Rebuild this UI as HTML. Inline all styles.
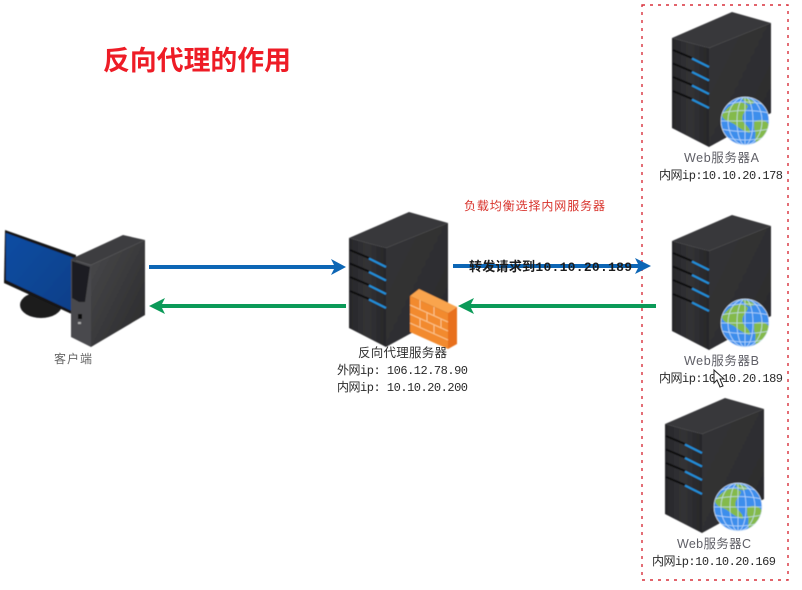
<!DOCTYPE html>
<html><head><meta charset="utf-8"><style>
html,body{margin:0;padding:0;background:#fff;width:802px;height:590px;overflow:hidden}
svg{display:block}
text{font-family:"Liberation Sans","Noto Sans CJK SC",sans-serif}
.m{font-family:"Liberation Mono","Noto Sans CJK SC",monospace;font-size:12px;fill:#2a2a2a}
.g{font-size:12.5px;fill:#5e5e66}
</style></head><body>
<svg width="802" height="590" viewBox="0 0 802 590" xmlns="http://www.w3.org/2000/svg">
<defs>
<linearGradient id="fr" x1="0" y1="0" x2="1" y2="0"><stop offset="0" stop-color="#27272a"/><stop offset=".5" stop-color="#323235"/><stop offset="1" stop-color="#272729"/></linearGradient>
<linearGradient id="rt" x1="0" y1="0" x2="1" y2="1"><stop offset="0" stop-color="#353537"/><stop offset="1" stop-color="#2a2a2c"/></linearGradient>
<linearGradient id="tw" x1="0" y1="0" x2="1" y2="1"><stop offset="0" stop-color="#4a4a4c"/><stop offset="1" stop-color="#29292b"/></linearGradient>
<linearGradient id="sc" x1="0" y1="0" x2="1" y2="1"><stop offset="0" stop-color="#0b4da3"/><stop offset="1" stop-color="#083f88"/></linearGradient>
<filter id="b" x="-5%" y="-5%" width="110%" height="110%"><feGaussianBlur stdDeviation=".5"/></filter>
<filter id="t" x="-5%" y="-20%" width="110%" height="140%"><feGaussianBlur stdDeviation=".3"/></filter>
<clipPath id="gc"><circle cx="0" cy="0" r="24"/></clipPath>
<g id="server">
<polygon points="0,26 60,0 99,11 37,36" fill="#39393b"/>
<polygon points="0,26 37,36 37,135 0,116" fill="url(#fr)"/>
<polygon points="37,36 99,11 99,101 37,135" fill="url(#rt)"/>
<g fill="none" stroke-width="2">
<path d="M1 38L20 46M1 51.500L20 59.500M1 65L20 73M1 79L20 87" stroke="#0b0b0c"/>
<path d="M20 46.500L37 55M20 60L37 68.500M20 73.500L37 82M20 87.500L37 96" stroke="#2090dc"/>
</g>
</g>
<g id="globe">
<circle r="24" fill="#3e8eec"/>
<g clip-path="url(#gc)">
<path d="M-23-6C-14-20 -2-21 3-15C1-9 -4-7 -2 0C0 4 6 7 5 12C0 11 -6 7 -11 3C-16 0-22 0-23-6Z" fill="#84ba4c"/>
<path d="M-3-23C2-23 9-21 9-18C4-15 0-18-3-23Z" fill="#84ba4c"/>
<path d="M9 1C15-3 23-1 25 6C23 15 16 20 11 22C9 15 12 12 9 8Z" fill="#84ba4c"/>
<g fill="none" stroke="#cfe6ff" stroke-width=".8" opacity=".85">
<path d="M-24-8Q0-13 24-8M-24 8Q0 13 24 8M-24 0H24M-18-17Q0-21 18-17M-18 17Q0 21 18 17"/>
<ellipse rx="8" ry="24"/><ellipse rx="17" ry="24"/><path d="M0-24V24"/>
</g>
</g>
<circle r="24" fill="none" stroke="#e6f1fb" stroke-width=".6"/>
</g>
</defs>

<rect x="642" y="5" width="146" height="575" fill="none" stroke="#d9303c" stroke-width="1.400" stroke-dasharray="3 5"/>

<text x="103" y="70" font-size="27" font-weight="700" fill="#ee1c25" textLength="188" lengthAdjust="spacingAndGlyphs" filter="url(#t)">反向代理的作用</text>

<g filter="url(#b)">
<!-- PC -->
<ellipse cx="41" cy="305" rx="21" ry="13" fill="#1c1c1e"/>
<polygon points="5,230 76,255 76,316 4,283" fill="#151517"/>
<polygon points="6,233 74,258 74,312 6,280" fill="url(#sc)"/>
<polygon points="71,259 123,235 145,240 91,265" fill="#3e3e40"/>
<polygon points="71,259 91,265 91,347 71,337" fill="#4a4a4d"/>
<polygon points="72,261 90,267 85,302 79,302 72,298" fill="#1f1f21"/>
<polygon points="91,265 145,240 145,315 91,347" fill="url(#tw)"/>
<rect x="78" y="314" width="4" height="5" fill="#0b0b0b"/>
<rect x="78" y="322" width="3" height="2" fill="#aaa"/>

<!-- Servers -->
<use href="#server" x="349" y="212"/>
<use href="#server" x="672" y="12"/>
<use href="#server" x="672" y="215"/>
<use href="#server" x="665" y="398"/>
<use href="#globe" x="745" y="121"/>
<use href="#globe" x="745" y="323"/>
<use href="#globe" x="738" y="507"/>

<!-- Firewall -->
<polygon points="410,296 419,289 457,307 448,313" fill="#f9a44e"/>
<polygon points="410,296 448,313 448,349 410,332" fill="#f28a2e"/>
<polygon points="448,313 457,307 457,344 448,349" fill="#e8701c"/>
<path d="M410 305L448 322M410 314L448 331M410 323L448 340M420 300V310M434 307V316M420 318V327M434 325V334M427 312V321M441 319V328" stroke="#fbc48b" stroke-width="1" fill="none"/>
</g>

<!-- Arrows -->
<g fill="none" stroke-width="4">
<path d="M149 267H336" stroke="#0d66b5"/>
<path d="M453 266H640" stroke="#0d66b5"/>
<path d="M159 306H346" stroke="#0b9a58"/>
<path d="M469 306H656" stroke="#0b9a58"/>
</g>
<polygon points="346,267 331,259 335,267 331,275" fill="#0d66b5"/>
<polygon points="651,266 635,258 639,266 635,274" fill="#0d66b5"/>
<polygon points="149,306 165,298 161,306 165,314" fill="#0b9a58"/>
<polygon points="458,306 474,298 470,306 474,314" fill="#0b9a58"/>

<!-- Labels -->
<g filter="url(#t)">
<text x="54" y="363" font-size="12" fill="#666" textLength="38">客户端</text>
<text x="464" y="210" font-size="12" fill="#d8322c" textLength="141">负载均衡选择内网服务器</text>
<text class="m" x="469" y="271" textLength="163" style="font-size:13px;fill:#1c1c1c;font-weight:700">转发请求到10.10.20.189</text>
<text x="358" y="357" font-size="12.500" fill="#333" textLength="89">反向代理服务器</text>
<text class="m" x="337" y="374" textLength="131">外网ip: 106.12.78.90</text>
<text class="m" x="337" y="391" textLength="131">内网ip: 10.10.20.200</text>

<text class="g" x="684" y="162" textLength="75">Web服务器A</text>
<text class="m" x="659" y="179" textLength="124">内网ip:10.10.20.178</text>
<text class="g" x="684" y="365" textLength="75">Web服务器B</text>
<text class="m" x="659" y="382" textLength="124">内网ip:10.10.20.189</text>
<text class="g" x="677" y="548" textLength="74">Web服务器C</text>
<text class="m" x="652" y="565" textLength="124">内网ip:10.10.20.169</text>
</g>

<!-- Cursor -->
<polygon points="714,370 714,383 717,380 720,387 723,386 720,379 724,379" fill="#fff" stroke="#222" stroke-width="1"/>
</svg>
</body></html>
